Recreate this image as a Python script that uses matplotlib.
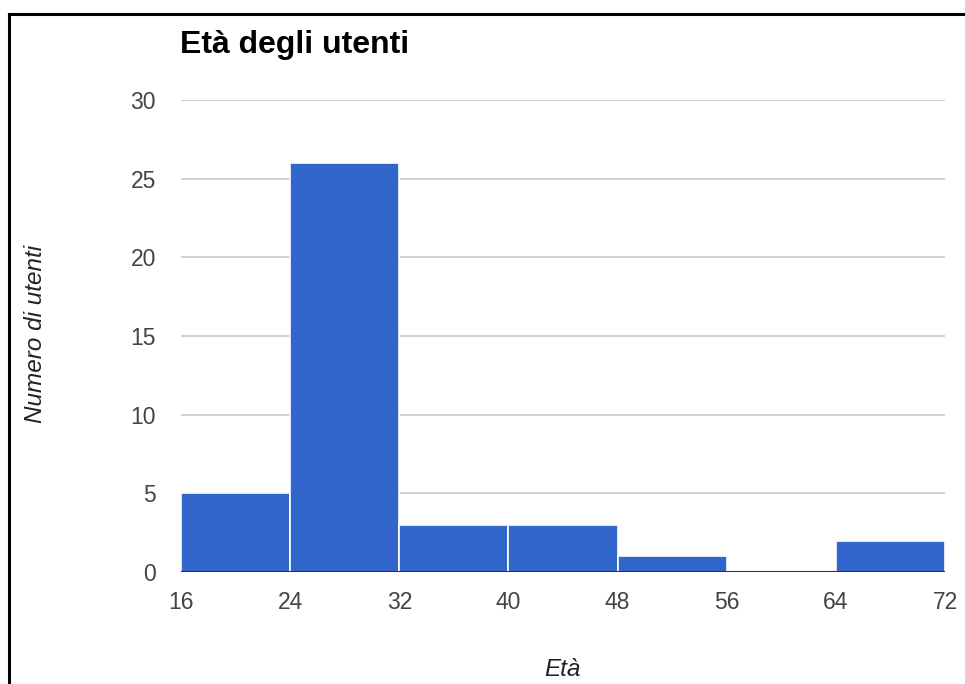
import matplotlib.pyplot as plt
from matplotlib.lines import Line2D

plt.rcParams['font.family'] = ['Liberation Sans', 'DejaVu Sans']

# dati dell'istogramma
bordi = [16, 24, 32, 40, 48, 56, 64, 72]
conteggi = [5, 26, 3, 3, 1, 0, 2]
yticks = [0, 5, 10, 15, 20, 25, 30]

fig = plt.figure(figsize=(9.65, 6.84), dpi=100)
ax = fig.add_axes([0.1876, 0.1637, 0.7917, 0.6901])

sinistra = bordi[:-1]
larghezze = [bordi[i + 1] - bordi[i] for i in range(len(conteggi))]
ax.bar(sinistra, conteggi, width=larghezze, align='edge', color='#3366cc',
       edgecolor='white', linewidth=1.2, zorder=2)

ax.set_xlim(16, 72)
ax.set_ylim(0, 30)
ax.set_xticks(bordi)
ax.set_yticks(yticks)
ax.grid(axis='y', color='#cccccc', linewidth=1.3, zorder=0)
ax.axhline(0, color='#333333', linewidth=1.5, zorder=3)

for s in ax.spines.values():
    s.set_visible(False)
ax.tick_params(length=0, labelsize=16.5, labelcolor='#444444')
ax.tick_params(axis='y', pad=18)
ax.tick_params(axis='x', pad=14)

fig.text(0.1865, 0.922, 'Età degli utenti', fontsize=23, fontweight='bold',
         ha='left', va='baseline')
fig.text(0.037, 0.512, 'Numero di utenti', fontsize=17.5, style='italic',
         rotation=90, ha='center', va='center', color='#222222')
fig.text(0.583, 0.012, 'Età', fontsize=17.5, style='italic',
         ha='center', va='baseline', color='#222222')

# cornice nera
fig.add_artist(Line2D([0.0093, 0.0093], [0, 0.980], color='black', linewidth=2.2))
fig.add_artist(Line2D([0.0093, 1.0], [0.980, 0.980], color='black', linewidth=2.2))

fig.savefig('out.png', dpi=100)
